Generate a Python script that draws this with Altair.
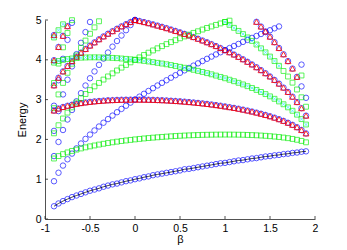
import altair as alt
import pandas as pd

# beta grid of the computed spectrum
BETA = [-0.90, -0.85, -0.80, -0.75, -0.70, -0.65, -0.60, -0.55, -0.50, -0.45, -0.40, -0.35, -0.30, -0.25, -0.20, -0.15, -0.10, -0.05,
        0.00, 0.05, 0.10, 0.15, 0.20, 0.25, 0.30, 0.35, 0.40, 0.45, 0.50, 0.55, 0.60, 0.65, 0.70, 0.75, 0.80, 0.85, 0.90, 0.95,
        1.00, 1.05, 1.10, 1.15, 1.20, 1.25, 1.30, 1.35, 1.40, 1.45, 1.50, 1.55, 1.60, 1.65, 1.70, 1.75, 1.80, 1.85, 1.90]

# energy levels (start index into BETA, values)
E_1_0 = [0.32, 0.39, 0.45, 0.50, 0.55, 0.59, 0.63, 0.67, 0.71, 0.74, 0.77, 0.81, 0.84, 0.87, 0.89, 0.92, 0.95, 0.97,
         1.00, 1.02, 1.05, 1.07, 1.10, 1.12, 1.14, 1.16, 1.18, 1.20, 1.22, 1.25, 1.26, 1.28, 1.30, 1.32, 1.34, 1.36, 1.38, 1.40,
         1.41, 1.43, 1.45, 1.47, 1.48, 1.50, 1.52, 1.53, 1.55, 1.57, 1.58, 1.60, 1.61, 1.63, 1.64, 1.66, 1.67, 1.69, 1.70]
E_3_0 = [0.949, 1.162, 1.342, 1.5, 1.643, 1.775, 1.897, 2.012, 2.121, 2.225, 2.324, 2.419, 2.510, 2.598, 2.683, 2.766, 2.846, 2.924,
         3.0, 3.074, 3.146, 3.217, 3.286, 3.354, 3.421, 3.486, 3.550, 3.613, 3.674, 3.735, 3.795, 3.854, 3.911, 3.969, 4.025, 4.080,
         4.135, 4.189, 4.243, 4.295, 4.347, 4.399, 4.450, 4.5, 4.550, 4.599, 4.648, 4.696, 4.743, 4.791, 4.838]
E_5_0 = [1.581, 1.936, 2.236, 2.5, 2.739, 2.958, 3.162, 3.354, 3.536, 3.708, 3.873, 4.031, 4.183, 4.330, 4.472, 4.610, 4.743, 4.873, 5.0]
E_7_0 = [2.214, 2.711, 3.130, 3.5, 3.834, 4.141, 4.427, 4.696, 4.950]
E_9_0 = [2.846, 3.486, 4.025, 4.5, 4.929]

E_1_1 = [1.520, 1.581, 1.630, 1.673, 1.710, 1.743, 1.773, 1.800, 1.825, 1.848, 1.870, 1.890, 1.909, 1.927, 1.943, 1.959, 1.973, 1.987,
         2.0, 2.012, 2.024, 2.034, 2.044, 2.053, 2.062, 2.070, 2.078, 2.085, 2.091, 2.097, 2.102, 2.106, 2.110, 2.114, 2.116, 2.118,
         2.120, 2.121, 2.121, 2.121, 2.120, 2.118, 2.116, 2.112, 2.108, 2.103, 2.097, 2.090, 2.081, 2.071, 2.060, 2.046, 2.031, 2.012,
         1.990, 1.962, 1.927]
E_3_1 = [2.153, 2.356, 2.525, 2.673, 2.805, 2.926, 3.037, 3.141, 3.239, 3.332, 3.419, 3.503, 3.582, 3.659, 3.732, 3.803, 3.871, 3.936,
         4.0, 4.061, 4.121, 4.179, 4.235, 4.289, 4.343, 4.394, 4.444, 4.493, 4.540, 4.587, 4.632, 4.676, 4.717, 4.760, 4.800, 4.838,
         4.877, 4.914, 4.950, 4.984]
E_5_1 = [2.785, 3.130, 3.419, 3.673, 3.901, 4.109, 4.302, 4.483, 4.654, 4.815, 4.968]
E_7_1 = [3.418, 3.905, 4.313, 4.673, 4.996]

E_1_2 = [2.725, 2.775, 2.814, 2.845, 2.871, 2.894, 2.913, 2.929, 2.943, 2.955, 2.965, 2.974, 2.982, 2.987, 2.992, 2.996, 2.998, 2.999,
         3.0, 2.999, 2.998, 2.996, 2.993, 2.989, 2.984, 2.979, 2.972, 2.965, 2.957, 2.948, 2.938, 2.928, 2.916, 2.904, 2.891, 2.877,
         2.862, 2.846, 2.828, 2.810, 2.791, 2.770, 2.748, 2.725, 2.700, 2.673, 2.645, 2.614, 2.581, 2.546, 2.507, 2.465, 2.418, 2.366,
         2.306, 2.236, 2.150]
E_3_2 = [3.357, 3.549, 3.708, 3.845, 3.967, 4.077, 4.178, 4.271, 4.357, 4.438, 4.515, 4.587, 4.655, 4.719, 4.781, 4.840, 4.895, 4.949, 5.0]
E_5_2 = [3.989, 4.323, 4.602, 4.845]
E_7_2 = [4.622]

E_1_3 = [3.929, 3.968, 3.997, 4.018, 4.033, 4.045, 4.053, 4.058, 4.061, 4.062, 4.061, 4.058, 4.054, 4.048, 4.041, 4.032, 4.023, 4.012,
         4.0, 3.987, 3.973, 3.958, 3.941, 3.924, 3.906, 3.887, 3.867, 3.845, 3.823, 3.800, 3.775, 3.749, 3.722, 3.695, 3.665, 3.635,
         3.603, 3.570, 3.536, 3.499, 3.462, 3.422, 3.381, 3.337, 3.291, 3.243, 3.192, 3.138, 3.081, 3.020, 2.954, 2.883, 2.805, 2.719,
         2.622, 2.510, 2.374]
E_3_3 = [4.561, 4.743, 4.892]

E_1_4 = [5.0, 4.974, 4.948, 4.920, 4.890, 4.860, 4.828, 4.795, 4.761, 4.725, 4.689, 4.651, 4.612, 4.571, 4.529, 4.485, 4.440, 4.393,
         4.345, 4.295, 4.243, 4.189, 4.132, 4.074, 4.013, 3.950, 3.883, 3.813, 3.740, 3.663, 3.581, 3.494, 3.401, 3.301, 3.192, 3.073,
         2.938, 2.784, 2.597]
E_1_5 = [4.950, 4.878, 4.803, 4.726, 4.646, 4.562, 4.475, 4.384, 4.288, 4.187, 4.081, 3.968, 3.849, 3.719, 3.580, 3.426, 3.254,
         3.058, 2.821]
E_1_6 = [4.954, 4.835, 4.712, 4.581, 4.443, 4.296, 4.138, 3.967, 3.780, 3.571, 3.332, 3.045]
E_1_7 = [3.606]
E_1_8 = [3.879]

X_TICKS = [-1, -0.5, 0, 0.5, 1, 1.5, 2]
Y_TICKS = [0, 1, 2, 3, 4, 5]


def rows(start, vals, n=None):
    vals = vals if n is None else vals[:n]
    return [{"beta": BETA[start + i], "E": v} for i, v in enumerate(vals)]


blue = (rows(0, E_1_0) + rows(0, E_3_0) + rows(0, E_5_0) + rows(0, E_7_0) + rows(0, E_9_0)
        + rows(0, E_1_2) + rows(0, E_3_2) + rows(0, E_5_2) + rows(0, E_7_2)
        + rows(18, E_1_4) + rows(45, E_1_6) + rows(55, E_1_8))
red = (rows(0, E_1_2) + rows(0, E_3_2) + rows(0, E_5_2) + rows(0, E_7_2)
       + rows(18, E_1_4) + rows(45, E_1_6, 10))
green = (rows(0, E_1_1) + rows(0, E_3_1) + rows(0, E_5_1) + rows(0, E_7_1)
         + rows(0, E_1_3) + rows(0, E_3_3) + rows(38, E_1_5) + rows(55, E_1_7))
cyan = rows(0, E_1_3) + rows(0, E_3_3) + rows(38, E_1_5, 13)
black = rows(0, E_1_0)

W, H = 270, 199
AX = "#262626"

x_enc = alt.X("beta:Q", scale=alt.Scale(domain=[-1, 2], nice=False, zero=False),
              axis=alt.Axis(values=X_TICKS, labelExpr="'' + datum.value", title="β", grid=False,
                            tickSize=0, labelPadding=4, titlePadding=0, domainColor=AX,
                            labelFont="Liberation Sans", titleFont="Liberation Sans",
                            labelFontSize=10.5, titleFontSize=11, labelColor="#000", titleColor="#000",
                            titleFontWeight="normal", labelFlush=False))
y_enc = alt.Y("E:Q", scale=alt.Scale(domain=[0, 5], nice=False),
              axis=alt.Axis(values=Y_TICKS, labelExpr="'' + datum.value", title="Energy", grid=False,
                            tickSize=0, labelPadding=4, titlePadding=8, domainColor=AX,
                            labelFont="Liberation Sans", titleFont="Liberation Sans",
                            labelFontSize=10.5, titleFontSize=11, labelColor="#000", titleColor="#000",
                            titleFontWeight="normal", labelFlush=False))

blue_l = alt.Chart(pd.DataFrame(blue)).mark_point(shape="circle", filled=False, size=30, strokeWidth=0.8,
                                                   color="#0000ff", opacity=0.8).encode(x=x_enc, y=y_enc)
green_l = alt.Chart(pd.DataFrame(green)).mark_point(shape="square", filled=False, size=24, strokeWidth=0.8,
                                                    color="#00ee00", opacity=0.8).encode(x=x_enc, y=y_enc)
red_l = alt.Chart(pd.DataFrame(red)).mark_point(shape="triangle-up", filled=False, size=34, strokeWidth=0.9,
                                                color="#ff0000", opacity=0.9).encode(x=x_enc, y=y_enc)
cyan_l = alt.Chart(pd.DataFrame(cyan)).mark_point(shape="M-1,-1L1,1M-1,1L1,-1", filled=False, size=10,
                                                  strokeWidth=0.8, color="#00e5ff").encode(x=x_enc, y=y_enc)
black_l = alt.Chart(pd.DataFrame(black)).mark_line(color="#000000", strokeWidth=0.7).encode(x=x_enc, y=y_enc)

xt = alt.Chart(pd.DataFrame({"beta": X_TICKS})).mark_rule(color=AX, strokeWidth=0.8).encode(
    x=x_enc, y=alt.value(H), y2=alt.value(H - 3))
yt = alt.Chart(pd.DataFrame({"E": Y_TICKS})).mark_rule(color=AX, strokeWidth=0.8).encode(
    y=y_enc, x=alt.value(0), x2=alt.value(3))

chart = alt.layer(xt, yt, blue_l, green_l, red_l, cyan_l, black_l).properties(
    width=W, height=H,
    autosize=alt.AutoSizeParams(type="none"),
    padding={"left": 37, "top": 12, "right": 24, "bottom": 30},
).configure_view(stroke=None).configure_axis(domainWidth=0.8)

chart.save("out.html", embed_options={"renderer": "svg", "actions": False})
